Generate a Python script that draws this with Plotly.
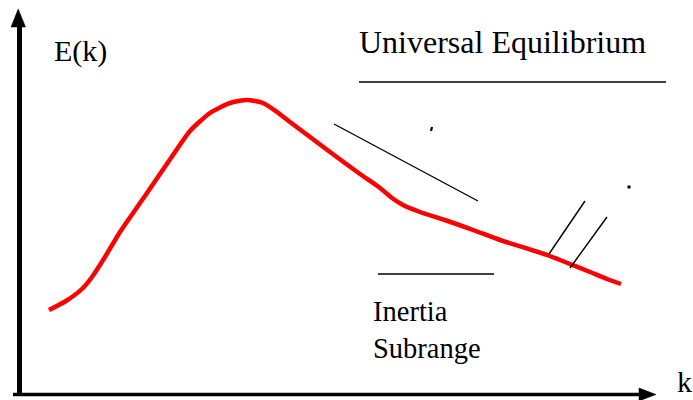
import plotly.graph_objects as go

W, H = 693, 400

# Energy spectrum curve E(k) (schematic, in chart units: k right, E up)
k_curve = [49, 66, 83, 92, 105, 120, 147, 173, 190, 210, 230, 247, 263, 277, 290,
           330, 360, 380, 392, 403, 420, 445, 473, 500, 547, 570, 590, 607, 621]
E_curve = [90, 99, 112, 123, 143, 168, 207, 245, 269, 287, 297, 300, 297, 288, 278,
           248, 226, 212, 202, 195, 188, 180, 170, 160, 145, 136, 128, 121, 116]

# Thin slope / marker segments (k0, E0, k1, E1)
slope_line = [334, 276, 478, 199]
cut_line_1 = [549, 146, 585, 199]
cut_line_2 = [570, 132, 607, 183]
universal_bar = [359, 318, 666, 318]
inertia_bar = [378, 126, 494, 126]
tick_mark = [431, 269, 432, 273]
dot_mark = [629, 213]

labels = {
    "E(k)": (52, 349),
    "Universal Equilibrium": (357, 358),
    "Inertia<br>Subrange": (371, 70),
    "k": (675, 19),
}
font_sizes = {"E(k)": 30, "Universal Equilibrium": 32, "Inertia<br>Subrange": 28.5, "k": 30}

fig = go.Figure()

fig.add_trace(go.Scatter(x=k_curve, y=E_curve, mode="lines",
                         line=dict(color="#ff0000", width=4.5, shape="spline", smoothing=0.6),
                         hoverinfo="skip"))

for seg, w in [(slope_line, 1.4), (cut_line_1, 1.4), (cut_line_2, 1.4),
               (universal_bar, 1.6), (inertia_bar, 1.6), (tick_mark, 2.2)]:
    fig.add_trace(go.Scatter(x=[seg[0], seg[2]], y=[seg[1], seg[3]], mode="lines",
                             line=dict(color="black", width=w), hoverinfo="skip"))

fig.add_trace(go.Scatter(x=[dot_mark[0]], y=[dot_mark[1]], mode="markers",
                         marker=dict(color="black", size=3, symbol="square"), hoverinfo="skip"))

# Axes with arrows
shapes = [
    dict(type="line", x0=19.5, y0=4, x1=19.5, y1=373, line=dict(color="black", width=5)),
    dict(type="line", x0=13, y0=5.5, x1=642, y1=5.5, line=dict(color="black", width=3.5)),
    dict(type="path", path="M 11 373 L 25.5 373 L 18.2 391 Z", fillcolor="black",
         line=dict(color="black", width=0.5)),
    dict(type="path", path="M 639 12 L 639 -1 L 656 5.5 Z", fillcolor="black",
         line=dict(color="black", width=0.5)),
]

annotations = []
for txt, (x, y) in labels.items():
    annotations.append(dict(x=x, y=y, text=txt, showarrow=False, xanchor="left",
                            yanchor="middle", align="left",
                            font=dict(family="Liberation Serif", size=font_sizes[txt], color="black")))

fig.update_layout(
    width=W, height=H, margin=dict(l=0, r=0, t=0, b=0, pad=0),
    paper_bgcolor="white", plot_bgcolor="white", showlegend=False,
    xaxis=dict(range=[0, W], visible=False, fixedrange=True),
    yaxis=dict(range=[0, H], visible=False, fixedrange=True),
    shapes=shapes, annotations=annotations,
)

fig.write_html("out.html", config={"displayModeBar": False},
               post_script="document.body.style.margin='0';document.body.style.overflow='hidden';")
